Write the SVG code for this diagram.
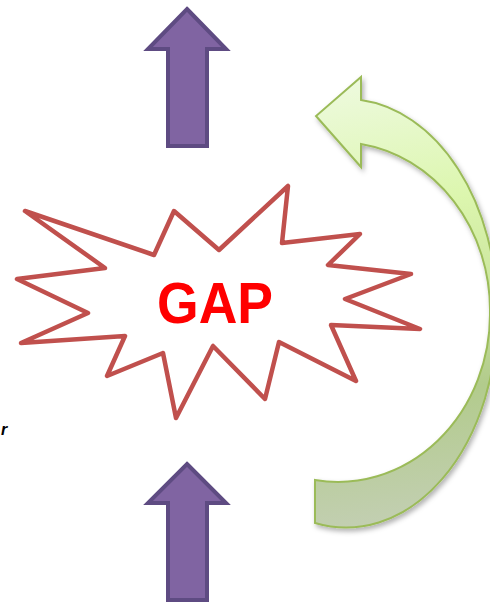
<svg xmlns="http://www.w3.org/2000/svg" width="490" height="604" viewBox="0 0 490 604">
  <defs>
    <style>
      .block { fill: #8064a2; stroke: #5e4b82; stroke-width: 4; stroke-linejoin: miter; }
      .burst { fill: #ffffff; stroke: #c0504d; stroke-width: 4.5; stroke-linejoin: round; }
      .curved { fill: url(#greenGrad); stroke: #9bbb59; stroke-width: 2; stroke-linejoin: miter; filter: url(#shadow); }
      .gap { font-family: "Liberation Sans", Arial, sans-serif; font-weight: bold; font-size: 58px; fill: #ff0000; }
      .frag { font-family: "Liberation Sans", Arial, sans-serif; font-weight: bold; font-style: italic; font-size: 16px; fill: #000000; }
    </style>
    <linearGradient id="greenGrad" gradientUnits="userSpaceOnUse" x1="330" y1="80" x2="400" y2="525">
      <stop offset="0" stop-color="#eefadf"/>
      <stop offset="0.3" stop-color="#dcf6ae"/>
      <stop offset="0.5" stop-color="#cce69f"/>
      <stop offset="0.72" stop-color="#b2cb8c"/>
      <stop offset="1" stop-color="#c3cfb3"/>
    </linearGradient>
    <filter id="shadow" x="-20%" y="-20%" width="140%" height="140%">
      <feDropShadow dx="2" dy="3" stdDeviation="2.5" flood-color="#000000" flood-opacity="0.3"/>
    </filter>
  </defs>

  <g id="gap-burst">
    <polygon class="burst" points="25,211 154,255 174,211 219,250 288,186 282,243 360,234 328,265 411,274 345,299 420,329 331,325 356,381 279,342 265,399 213,346 176,418 163,353 107,376 125,336 21,343 88,313 17,279 105,268"/>
    <text class="gap" x="215" y="323" text-anchor="middle" textLength="116" lengthAdjust="spacingAndGlyphs">GAP</text>
  </g>

  <g id="text-fragment">
    <text class="frag" x="1" y="435">r</text>
  </g>

  <g id="connectors">
    <g id="arrow-top">
      <polygon class="block" points="187,9 226,49 207,49 207,146 168,146 168,49 148,49"/>
    </g>
    <g id="arrow-bottom">
      <polygon class="block" points="187,464 226,503 207,503 207,600 168,600 168,503 148,503"/>
    </g>
    <g id="curved-arrow">
      <path class="curved" d="M315,480 L315,523 A151,212 0 0 0 497,311 A151,212 0 0 0 361,100 L361,77 L316,116 L361,167 L361,144 A152,168 0 0 1 490,312 A152,168 0 0 1 315,480 Z"/>
    </g>
  </g>
</svg>
